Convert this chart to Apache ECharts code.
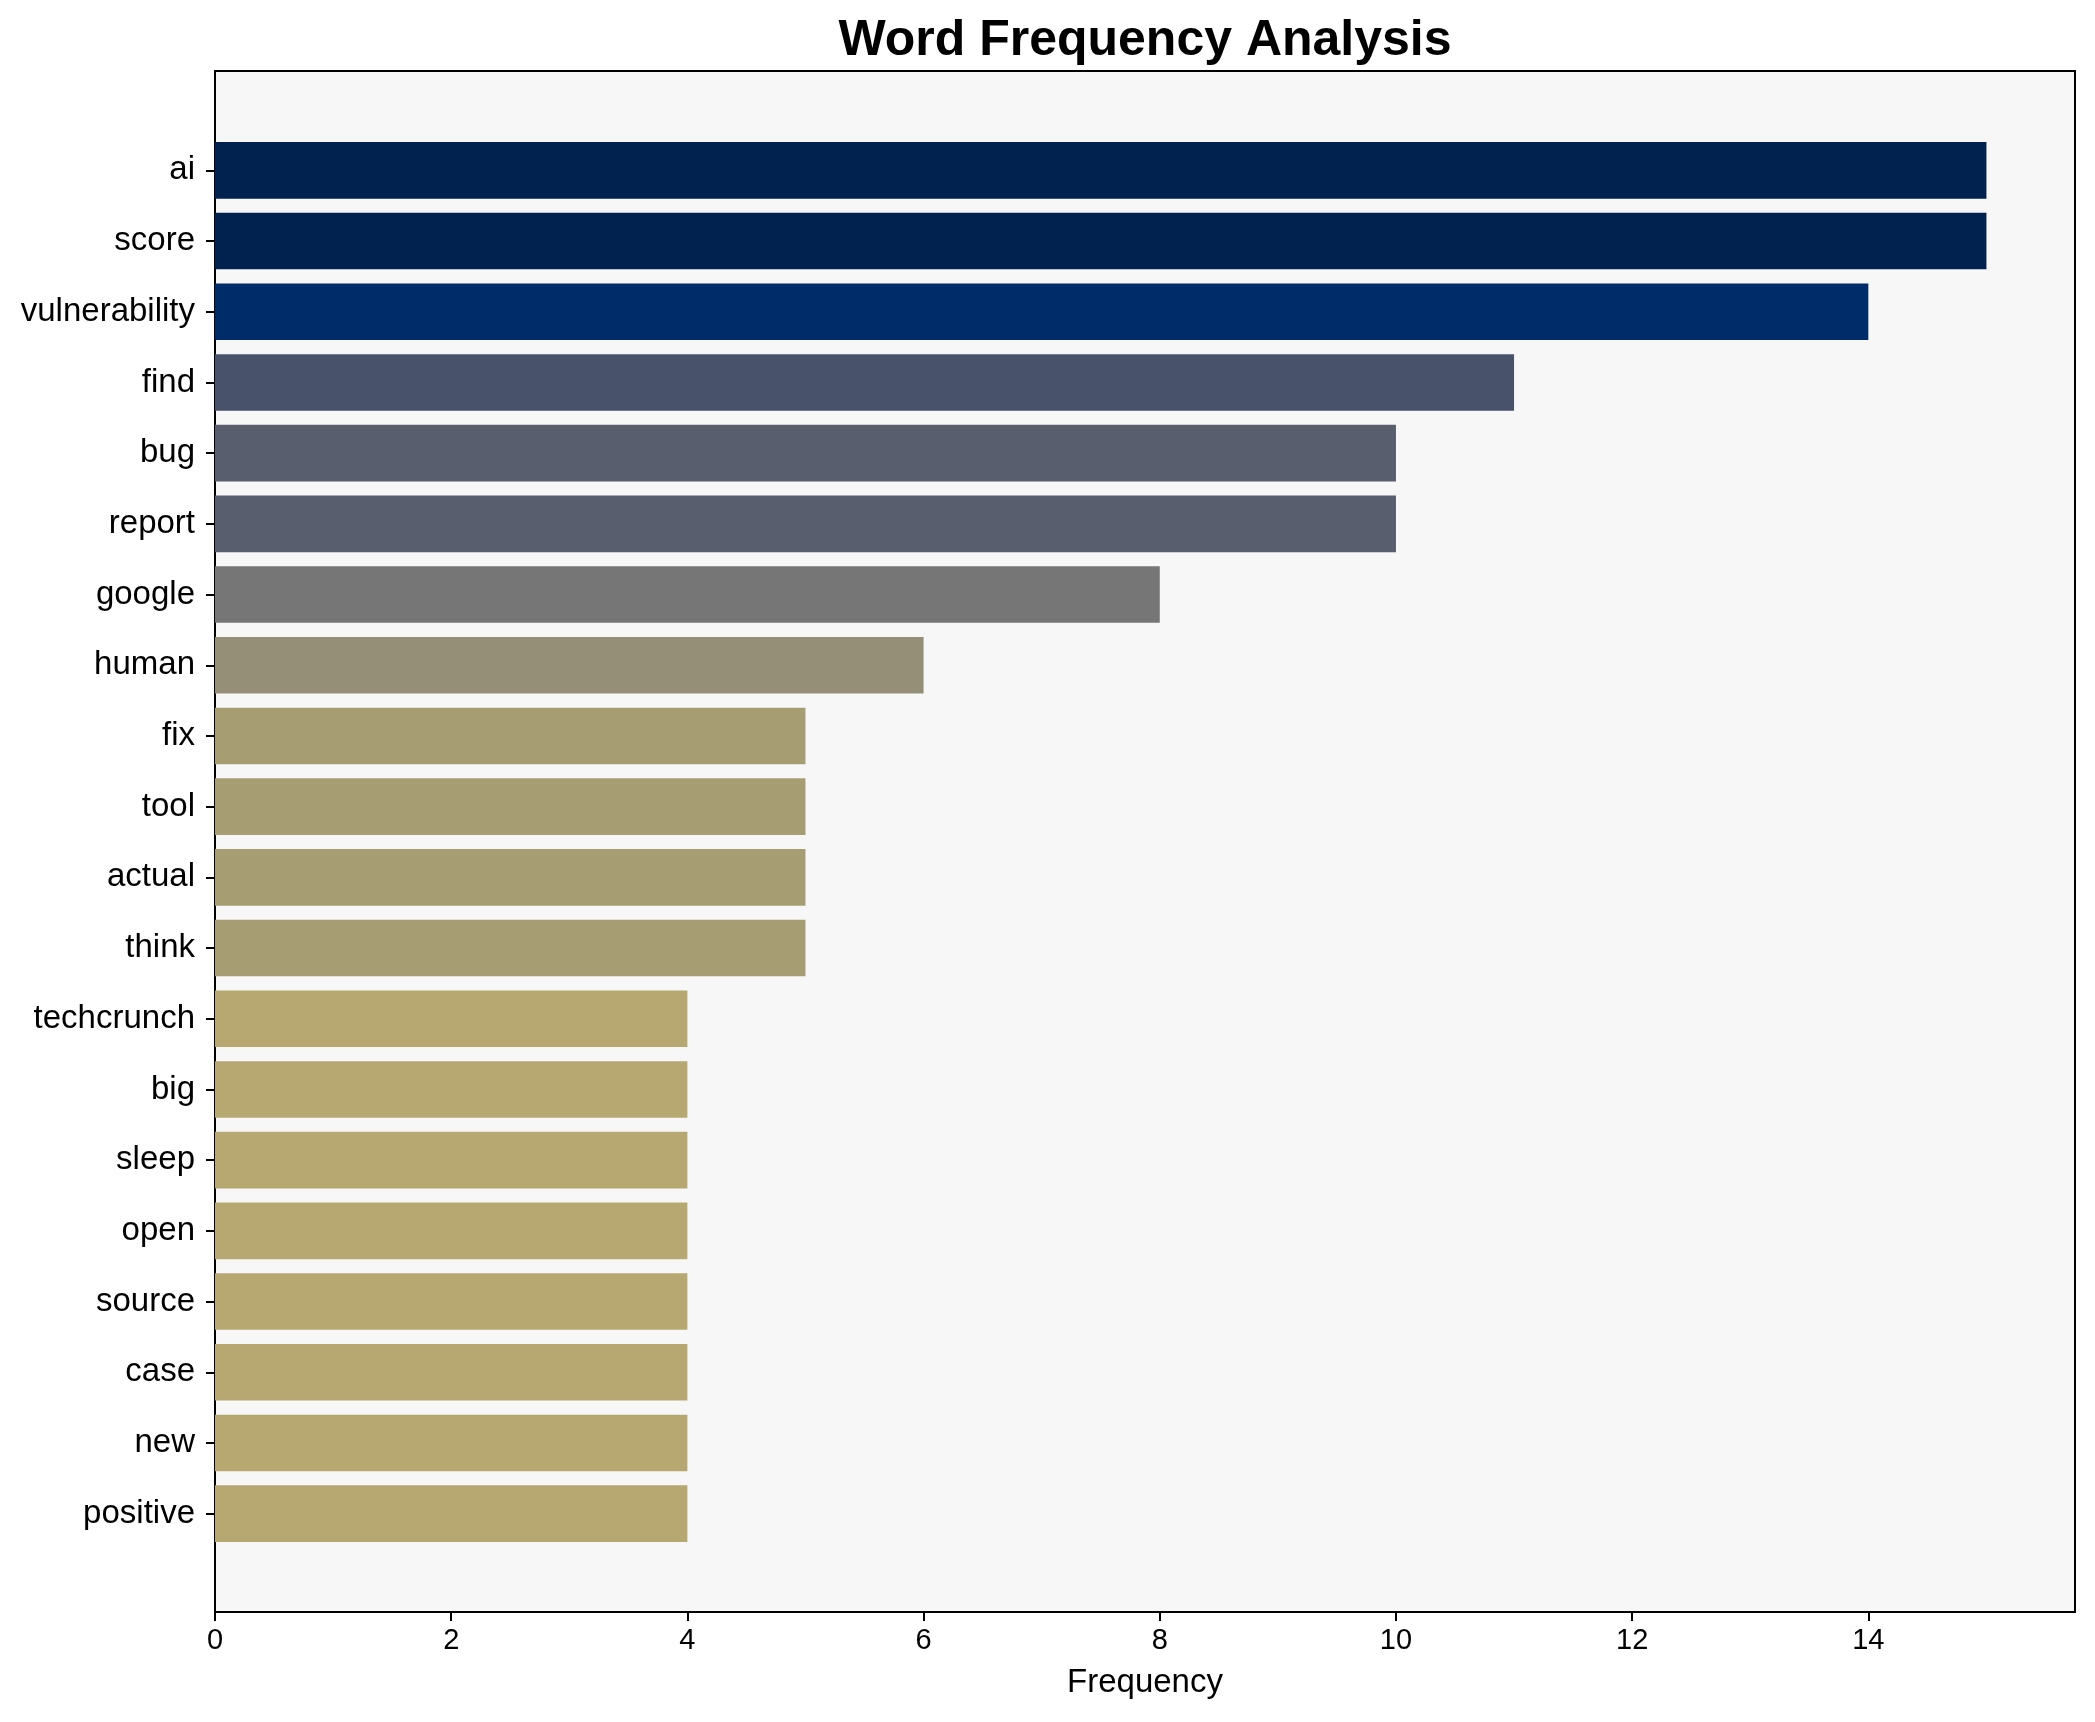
<!DOCTYPE html>
<html>
<head>
<meta charset="utf-8">
<script src="https://cdn.jsdelivr.net/npm/echarts@6/dist/echarts.min.js"></script>
<style>
html,body{margin:0;padding:0;background:#fff;}
#chart{width:2095px;height:1722px;}
</style>
</head>
<body>
<div id="chart"></div>
<script>
var categories = ['ai','score','vulnerability','find','bug','report','google','human','fix','tool','actual','think','techcrunch','big','sleep','open','source','case','new','positive'];
var frequencies = [15,15,14,11,10,10,8,6,5,5,5,5,4,4,4,4,4,4,4,4];
var xTicks = [0,2,4,6,8,10,12,14];

// colour per frequency (cividis-like, reversed)
var colorByValue = {15:'#01224e',14:'#002d69',11:'#48526b',10:'#585e6e',8:'#767676',6:'#958f77',5:'#a69d73',4:'#b6a870'};

var font = "'Liberation Sans', Arial, Helvetica, sans-serif";
var chart = echarts.init(document.getElementById('chart'));
var xMax = 15.75;

chart.setOption({
  backgroundColor: '#ffffff',
  animation: false,
  title: {
    text: 'Word Frequency Analysis',
    left: 1140, textAlign: 'center', top: 11,
    textStyle: {fontFamily: font, fontSize: 50, fontWeight: 'bold', color: '#000'}
  },
  grid: [
    {left: 215, right: 20, top: 71, bottom: 110, show: true, backgroundColor: '#f7f7f7', borderColor: '#000', borderWidth: 2},
    {left: 215, right: 20, top: 135, bottom: 173, show: false}
  ],
  xAxis: [
    {
      gridIndex: 0, type: 'value', min: 0, max: xMax, interval: 2,
      name: 'Frequency', nameLocation: 'middle', nameGap: 54,
      nameTextStyle: {fontFamily: font, fontSize: 33, color: '#000'},
      axisLine: {show: true, lineStyle: {color: '#000', width: 2}},
      axisTick: {show: true, length: 9, lineStyle: {color: '#000', width: 2}},
      axisLabel: {fontFamily: font, fontSize: 29, color: '#000', margin: 14,
        showMaxLabel: false,
        formatter: function (v) { return xTicks.indexOf(v) >= 0 ? String(v) : ''; }},
      splitLine: {show: false}
    },
    {gridIndex: 1, type: 'value', min: 0, max: xMax, show: false}
  ],
  yAxis: [
    {gridIndex: 0, type: 'value', show: false},
    {
      gridIndex: 1, type: 'category', inverse: true, data: categories,
      axisLine: {show: false},
      axisTick: {show: true, alignWithLabel: true, length: 9, lineStyle: {color: '#000', width: 2}},
      axisLabel: {fontFamily: font, fontSize: 33, color: '#000', margin: 20, padding: [4, 0, 0, 0]},
      splitLine: {show: false}
    }
  ],
  series: [{
    type: 'bar', xAxisIndex: 1, yAxisIndex: 1,
    barWidth: '80%',
    data: frequencies.map(function (v) {
      return {value: v, itemStyle: {color: colorByValue[v]}};
    })
  }]
});
</script>
</body>
</html>
